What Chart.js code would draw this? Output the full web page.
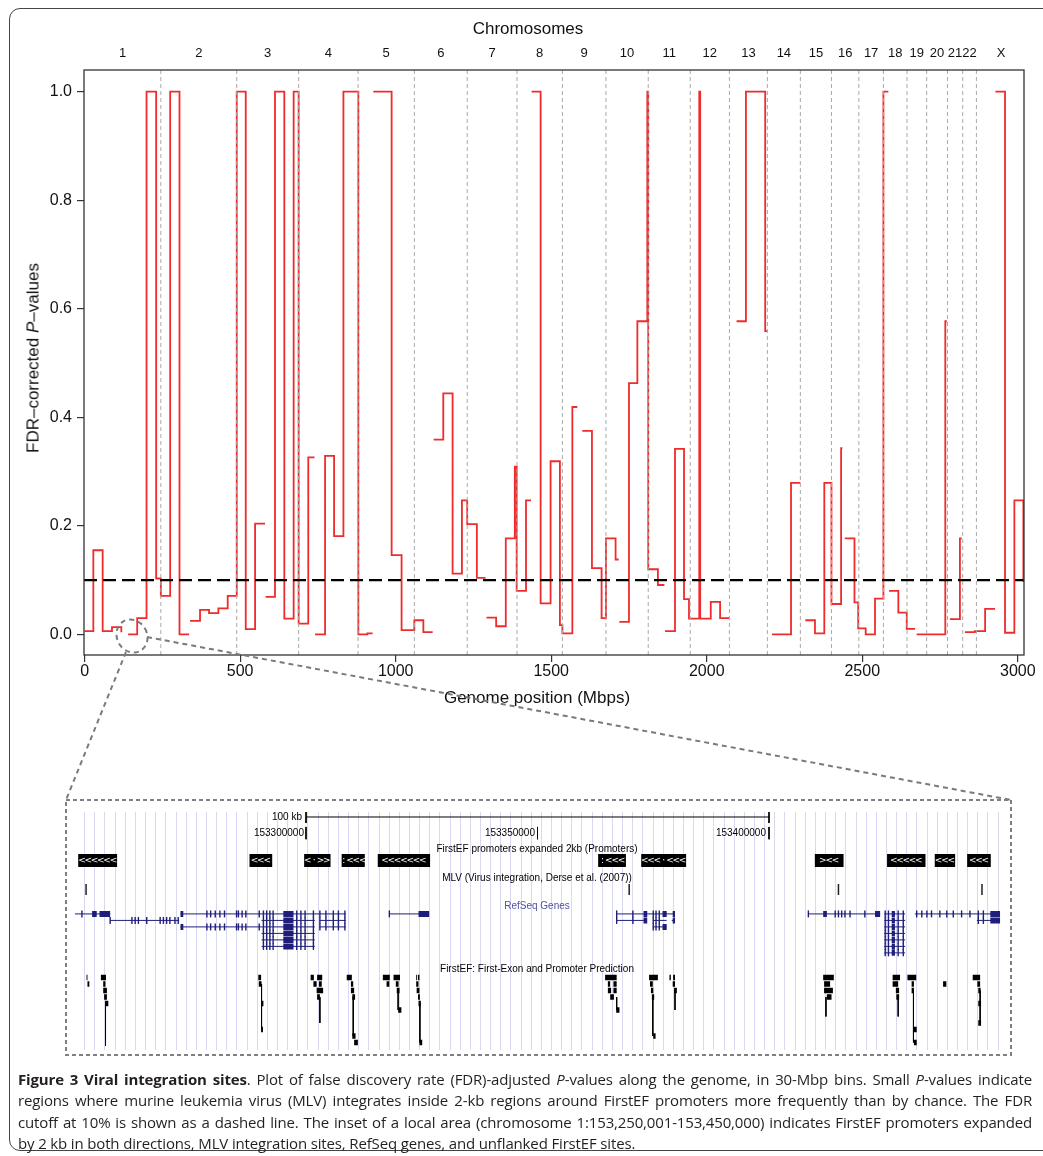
<!DOCTYPE html>
<html>
<head>
<meta charset="utf-8">
<script src="https://cdn.jsdelivr.net/npm/chart.js@4.4.1/dist/chart.umd.min.js"></script>
<style>
  html, body { margin: 0; padding: 0; background: #fff; }
  body { width: 1043px; height: 1156px; position: relative; overflow: hidden; font-family: "Liberation Sans", Arial, sans-serif; color: #111; }
  #frame { position: absolute; left: 9px; top: 8px; width: 1100px; height: 1141px; border: 1px solid #444; border-radius: 11px; }
  #pvalChart { position: absolute; left: 0; top: 0; }
  #insetChart { position: absolute; left: 67px; top: 801px; }
  .t { position: absolute; white-space: nowrap; line-height: 1; }
  .c { transform: translate(-50%, -50%); }
  .r { transform: translate(-100%, -50%); }
  .ax { font-size: 17px; }
  .ins { font-size: 10px; color: #000; }
  #ytitle { left: 33px; top: 358px; transform: translate(-50%, -50%) rotate(-90deg); }
  #overlay { position: absolute; left: 0; top: 0; pointer-events: none; }
  #caption { position: absolute; left: 18px; top: 1069px; width: 1014px; font-family: "Open Sans", sans-serif; font-size: 15px; letter-spacing: -0.15px; line-height: 21.3px; color: #231f20; }
  #caption .j { text-align: justify; text-align-last: justify; }
</style>
</head>
<body>
<div id="frame"></div>
<canvas id="pvalChart" width="1043" height="720"></canvas>
<canvas id="insetChart" width="943" height="254"></canvas>

<div class="t c ax" style="left:528px;top:28px;">Chromosomes</div>
<div class="t c ax" style="left:537px;top:697px;">Genome position (Mbps)</div>
<div class="t ax" id="ytitle">FDR–corrected <i>P</i>–values</div>

<div class="t r ins" style="left:302px;top:817px;">100 kb</div>
<div class="t r ins" style="left:304px;top:833px;">153300000</div>
<div class="t r ins" style="left:535px;top:833px;">153350000</div>
<div class="t r ins" style="left:766px;top:833px;">153400000</div>
<div class="t c ins" style="left:537px;top:849px;">FirstEF promoters expanded 2kb (Promoters)</div>
<div class="t c ins" style="left:537px;top:878px;">MLV (Virus integration, Derse et al. (2007))</div>
<div class="t c ins" style="left:537px;top:906px;color:#5050a8;">RefSeq Genes</div>
<div class="t c ins" style="left:537px;top:969px;">FirstEF: First-Exon and Promoter Prediction</div>

<svg id="overlay" width="1043" height="1156">
  <g fill="none" stroke="#7a7a7a" stroke-width="2" stroke-dasharray="5 4">
    <ellipse cx="132" cy="636" rx="15" ry="17" transform="rotate(-30 132 636)"></ellipse>
    <line x1="126" y1="652" x2="66" y2="800"></line>
    <line x1="147" y1="637" x2="1011" y2="800"></line>
  </g>
  <rect x="66" y="800" width="945" height="255" fill="none" stroke="#808080" stroke-width="2" stroke-dasharray="4 3"></rect>
</svg>

<div id="caption">
  <div class="j"><b>Figure 3 Viral integration sites</b>. Plot of false discovery rate (FDR)-adjusted <i>P</i>-values along the genome, in 30-Mbp bins. Small <i>P</i>-values indicate</div>
  <div class="j">regions where murine leukemia virus (MLV) integrates inside 2-kb regions around FirstEF promoters more frequently than by chance. The FDR</div>
  <div class="j">cutoff at 10% is shown as a dashed line. The inset of a local area (chromosome 1:153,250,001-153,450,000) indicates FirstEF promoters expanded</div>
  <div>by 2 kb in both directions, MLV integration sites, RefSeq genes, and unflanked FirstEF sites.</div>
</div>

<script>
// ---- genome-wide plot data (Mbp) ----
const chromNames = ['1', '2', '3', '4', '5', '6', '7', '8', '9', '10', '11', '12',
  '13', '14', '15', '16', '17', '18', '19', '20', '21', '22', 'X'];
const chromStart = [0, 245, 489, 688, 879, 1060, 1230, 1390, 1536, 1676, 1812, 1947,
  2073, 2195, 2301, 2401, 2489, 2568, 2644, 2707, 2774, 2823, 2867];
const genomeEnd = 3025;

// each run is a continuous stretch of the step line: bin left edges and FDR P-values
const binStart = [
  [0, 28, 58, 88, 118],
  [140, 169, 199, 230, 245, 275, 305, 336],
  [339, 371, 400, 430, 460, 489, 518, 548, 580],
  [582, 612, 642, 672, 688, 719, 739],
  [741, 773, 802, 832, 880, 909, 926],
  [928, 987, 1019, 1060, 1089, 1119],
  [1122, 1153, 1183, 1213, 1230, 1261, 1289],
  [1292, 1323, 1354, 1383, 1389, 1419, 1435],
  [1437, 1466, 1498, 1528, 1536, 1568, 1584],
  [1600, 1631, 1662, 1676, 1707, 1717],
  [1719, 1750, 1777, 1809, 1812, 1843, 1864],
  [1866, 1898, 1927, 1943, 1976, 1979, 2013, 2043, 2073],
  [2096, 2126, 2188, 2195],
  [2210, 2271, 2301],
  [2317, 2348, 2378, 2401, 2432, 2436],
  [2444, 2475, 2487, 2511, 2541, 2568, 2584],
  [2586, 2616, 2643, 2670],
  [2675, 2767, 2772],
  [2782, 2814, 2820],
  [2830, 2862, 2895, 2927],
  [2928, 2959, 2989, 3018, 3021]
];
const binP = [
  [0.006, 0.155, 0.006, 0.0135, 0.004],
  [0.0, 0.030, 1.0, 0.103, 0.071, 1.0, 0.0, 0.0],
  [0.025, 0.045, 0.039, 0.048, 0.071, 1.0, 0.0098, 0.204, 0.204],
  [0.069, 1.0, 0.029, 1.0, 0.020, 0.326, 0.326],
  [0.0, 0.329, 0.181, 1.0, 0.0, 0.002, 0.002],
  [1.0, 0.146, 0.008, 0.026, 0.004, 0.004],
  [0.359, 0.444, 0.112, 0.247, 0.203, 0.104, 0.104],
  [0.031, 0.015, 0.177, 0.309, 0.080, 0.247, 0.247],
  [1.0, 0.057, 0.319, 0.017, 0.002, 0.419, 0.419],
  [0.375, 0.122, 0.030, 0.177, 0.138, 0.138],
  [0.023, 0.463, 0.577, 1.0, 0.120, 0.091, 0.091],
  [0.006, 0.342, 0.065, 0.029, 1.0, 0.029, 0.060, 0.030, 0.030],
  [0.577, 1.0, 0.559, 0.559],
  [0.0, 0.279, 0.279],
  [0.026, 0.002, 0.279, 0.056, 0.343, 0.343],
  [0.177, 0.059, 0.011, 0.0, 0.066, 1.0, 1.0],
  [0.080, 0.040, 0.010, 0.010],
  [0.0, 0.577, 0.577],
  [0.028, 0.177, 0.177],
  [0.004, 0.006, 0.047, 0.047],
  [1.0, 0.003, 0.247, 0.098, 0.098]
];
const fdrCutoff = 0.1;
const xTickValues = [0, 500, 1000, 1500, 2000, 2500, 3000];
const yTickValues = [0, 0.2, 0.4, 0.6, 0.8, 1.0];

// ---- inset data: kb from chr1:153,250,000 ----
const coordTicksKb = [50, 100, 150];
const scaleBarKb = [50, 150];
const promoterBoxes = [[0.8, 9.2], [37.8, 42.7], [49.6, 55.3], [57.7, 62.7], [65.5, 76.8],
  [113.1, 119.1], [122.4, 132.1], [159.9, 166.1], [175.5, 183.8], [185.8, 190.2], [192.8, 197.9]];
const promoterArrows = ['<<<<<<', '<<<', '<·>>', ':<<<', '<<<<<<<', ':<<<', '<<<·<<<', '><<', '<<<<<', '<<<', '<<<'];
const mlvSitesKb = [2.5, 119.8, 165.0, 196.0];
// [start, end, isoform row]
const geneSpans = [
  [0.1, 7.7, 0], [22.9, 58.6, 0], [68.0, 76.6, 0], [117.1, 129.7, 0], [158.5, 174.0, 0], [174.9, 179.4, 0], [181.5, 199.9, 0],
  [7.7, 22.6, 1], [40.4, 51.9, 1], [52.9, 58.6, 1], [117.1, 123.6, 1], [124.9, 127.9, 1], [129.0, 129.7, 1], [174.9, 179.4, 1], [194.9, 199.9, 1],
  [22.9, 51.9, 2], [52.9, 58.6, 2], [124.9, 127.9, 2], [174.9, 179.4, 2],
  [40.4, 51.9, 3], [174.9, 179.4, 3],
  [40.4, 51.9, 4], [174.9, 179.4, 4],
  [40.4, 51.9, 5], [174.9, 179.4, 5],
  [174.9, 179.4, 6]
];
const exonGroups = [
  { kb: [28.6, 29.4, 30.4, 31.4, 32.4, 35.0, 35.4, 36.2, 37.0, 39.9], rows: [0, 2] },
  { kb: [40.8, 41.5, 42.2, 42.9, 48.0, 48.9, 49.8, 51.6], rows: [0, 1, 2, 3, 4, 5] },
  { kb: [53.0, 54.3, 55.9, 57.0, 58.4], rows: [0, 1, 2] },
  { kb: [1.6, 68.0, 158.5, 164.3, 165.0, 165.7, 166.4, 167.5, 170.7, 181.9, 183.0, 184.1, 185.1, 186.9, 188.4, 189.8, 191.6, 193.4], rows: [0] },
  { kb: [7.7, 12.4, 13.1, 13.8, 15.6, 18.5, 19.2, 19.9, 20.6, 21.7, 22.4], rows: [1] },
  { kb: [117.1, 120.6], rows: [0, 1] },
  { kb: [125.0, 125.6, 126.3], rows: [0, 1, 2] },
  { kb: [175.1, 175.8, 177.9, 179.0], rows: [0, 1, 2, 3, 4, 5, 6] },
  { kb: [195.2, 196.3], rows: [0, 1] }
];
const exonBlocks = [
  [3.8, 4.8, [0]], [5.4, 7.7, [0]], [22.9, 23.5, [0, 2]], [45.1, 47.3, [0, 1, 2, 3, 4, 5]], [74.3, 76.6, [0]],
  [122.9, 123.7, [0, 1]], [127.0, 127.9, [0, 2]], [129.2, 129.7, [0, 1]], [161.7, 162.5, [0]], [172.9, 174.0, [0]],
  [176.5, 177.2, [0, 1, 2, 3, 4, 5, 6]], [197.8, 199.9, [0, 1]]
];
// FirstEF predictions: [start, end, stack level]
const firstEfBoxes = [
  [2.6, 2.8, 0], [2.8, 3.2, 1],
  [5.7, 6.8, 0], [6.2, 6.7, 1], [6.2, 7.0, 2], [6.4, 7.0, 3], [6.6, 7.3, 4],
  [39.7, 40.3, 0], [39.8, 40.4, 1], [40.3, 40.8, 4], [40.3, 40.7, 8],
  [51.0, 51.7, 0], [52.4, 53.5, 0], [51.6, 52.3, 1], [52.8, 53.4, 1], [52.3, 53.7, 2], [52.4, 53.0, 3],
  [58.8, 59.9, 0], [59.7, 60.2, 1], [59.7, 60.4, 2], [60.0, 60.6, 3], [60.0, 60.7, 9], [60.4, 61.2, 10],
  [66.6, 68.1, 0], [68.9, 70.3, 0], [67.4, 68.0, 1], [69.4, 70.0, 1], [69.6, 70.2, 2], [69.9, 70.6, 5],
  [73.8, 74.0, 0], [74.2, 74.5, 0], [73.8, 74.3, 1], [73.9, 74.5, 2], [74.2, 74.6, 3], [74.3, 74.8, 4], [74.5, 75.1, 10],
  [114.6, 117.1, 0], [115.2, 115.7, 1], [116.4, 117.1, 1], [115.2, 115.9, 2], [116.4, 117.1, 2], [115.7, 116.5, 3], [117.0, 117.7, 5],
  [124.1, 126.0, 0], [124.3, 124.9, 1], [124.5, 125.0, 2], [124.7, 125.2, 3], [125.0, 125.5, 9],
  [128.5, 128.8, 0], [129.3, 129.7, 0], [129.2, 129.7, 1], [129.5, 130.1, 2],
  [161.7, 164.0, 0], [161.9, 163.2, 1], [161.9, 163.8, 2], [162.5, 163.5, 3],
  [176.7, 178.3, 0], [176.7, 177.9, 1], [177.4, 178.1, 2], [177.5, 178.1, 3],
  [179.9, 181.8, 0], [180.8, 181.3, 1], [180.8, 181.3, 2], [181.2, 181.9, 8], [181.3, 181.9, 10],
  [187.8, 188.0, 0], [187.6, 188.3, 1],
  [194.0, 195.6, 0], [195.0, 195.6, 1], [195.2, 195.7, 2], [195.2, 195.8, 4], [195.2, 195.8, 7]
];
// thin connectors: [kb, from level, to level]
const firstEfStems = [[6.7, 4, 10.5], [40.4, 1, 8], [53.0, 3, 7], [60.2, 3, 9], [69.9, 2, 5], [74.6, 4, 10],
  [117.1, 3, 5], [124.9, 3, 9], [129.7, 2, 5], [162.3, 3, 6], [177.9, 3, 6], [181.2, 2, 10], [195.6, 2, 7]];

Chart.defaults.font.family = '"Liberation Sans", Arial, Helvetica, sans-serif';
Chart.defaults.color = '#111';

// ---------- main chart ----------
const X_MIN = -2, X_MAX = 3020, Y_MIN = -0.038, Y_MAX = 1.04;

const stepPoints = [];
binStart.forEach((xs, r) => {
  xs.forEach((x, i) => stepPoints.push({ x: x, y: binP[r][i] }));
  stepPoints.push({ x: xs[xs.length - 1], y: null });
});
const boundaryPoints = [];
chromStart.slice(1).forEach(b => {
  boundaryPoints.push({ x: b, y: Y_MIN }, { x: b, y: Y_MAX }, { x: b, y: null });
});
const chromMid = chromStart.map((s, i) => (s + (chromStart[i + 1] ?? genomeEnd)) / 2);

const frameBox = {
  id: 'frameBox',
  afterDatasetsDraw(chart) {
    const { ctx, chartArea: a } = chart;
    ctx.save();
    ctx.strokeStyle = '#333';
    ctx.lineWidth = 1.3;
    ctx.strokeRect(a.left, a.top, a.right - a.left, a.bottom - a.top);
    ctx.restore();
  }
};

new Chart(document.getElementById('pvalChart'), {
  type: 'line',
  data: {
    datasets: [
      { data: [{ x: X_MIN, y: fdrCutoff }, { x: X_MAX, y: fdrCutoff }], borderColor: '#000', borderWidth: 2.2, borderDash: [13, 6], pointRadius: 0, order: 0 },
      { data: boundaryPoints, borderColor: '#a9a9a9', borderWidth: 1, borderDash: [4, 3], pointRadius: 0, spanGaps: false, order: 1 },
      { data: stepPoints, borderColor: '#ef2b2b', borderWidth: 1.8, stepped: 'before', pointRadius: 0, spanGaps: false, order: 2 }
    ]
  },
  options: {
    responsive: false,
    animation: false,
    devicePixelRatio: 1,
    layout: { padding: { left: 0, right: 19, top: 0, bottom: 0 } },
    plugins: { legend: { display: false }, tooltip: { enabled: false } },
    scales: {
      x: {
        type: 'linear', position: 'bottom', min: X_MIN, max: X_MAX,
        afterBuildTicks: (a) => { a.ticks = xTickValues.map(v => ({ value: v })); },
        afterFit: (s) => { s.height = 65; },
        ticks: { autoSkip: false, maxRotation: 0, padding: 0, font: { size: 16 }, callback: (v) => String(v) },
        grid: { drawOnChartArea: false, tickLength: 7, color: '#333', lineWidth: 1.2 },
        border: { display: false }
      },
      x2: {
        type: 'linear', position: 'top', min: X_MIN, max: X_MAX,
        afterBuildTicks: (a) => { a.ticks = chromMid.map(v => ({ value: v })); },
        afterFit: (s) => { s.height = 70; },
        ticks: { autoSkip: false, maxRotation: 0, padding: 1, font: { size: 13 }, callback: (v, i) => chromNames[i] },
        grid: { display: false },
        border: { display: false }
      },
      y: {
        type: 'linear', min: Y_MIN, max: Y_MAX,
        afterBuildTicks: (a) => { a.ticks = yTickValues.map(v => ({ value: v })); },
        afterFit: (s) => { s.width = 84; },
        ticks: { padding: 5, font: { size: 16 }, callback: (v) => v.toFixed(1) },
        grid: { drawOnChartArea: false, tickLength: 7, color: '#333', lineWidth: 1.2 },
        border: { display: false }
      }
    }
  },
  plugins: [frameBox]
});

// ---------- inset (genome browser view) ----------
const ROW = { bar: 0.77, barTop: 0, barBottom: 1.7, coordTop: 2.3, coordBottom: 4.2, promoter: 7.46,
  mlvTop: 11.1, mlvBottom: 12.8, gene: 15.7, firstEf: 25.5 };

const seg = (out, x0, y0, x1, y1) => { out.push({ x: x0, y: y0 }, { x: x1, y: y1 }, { x: x1, y: null }); };

const barPoints = [];
seg(barPoints, scaleBarKb[0], ROW.bar, scaleBarKb[1], ROW.bar);
scaleBarKb.forEach(k => seg(barPoints, k, ROW.barTop, k, ROW.barBottom));
coordTicksKb.forEach(k => seg(barPoints, k, ROW.coordTop, k, ROW.coordBottom));

const promoterPoints = [];
promoterBoxes.forEach(([s, e]) => seg(promoterPoints, s, ROW.promoter, e, ROW.promoter));

const mlvPoints = [];
mlvSitesKb.forEach(k => seg(mlvPoints, k, ROW.mlvTop, k, ROW.mlvBottom));

const genePoints = [];
geneSpans.forEach(([s, e, r]) => seg(genePoints, s, ROW.gene + r, e, ROW.gene + r));

const exonTickPoints = [];
exonGroups.forEach(g => g.rows.forEach(r => g.kb.forEach(k => exonTickPoints.push({ x: k, y: ROW.gene + r }))));

const exonBlockPoints = [];
exonBlocks.forEach(([s, e, rows]) => rows.forEach(r => seg(exonBlockPoints, s, ROW.gene + r, e, ROW.gene + r)));

const efBoxPoints = [];
firstEfBoxes.forEach(([s, e, l]) => seg(efBoxPoints, s, ROW.firstEf + l, e, ROW.firstEf + l));

const efStemPoints = [];
firstEfStems.forEach(([k, a, b]) => seg(efStemPoints, k, ROW.firstEf + a, k, ROW.firstEf + b));

const guideKb = [];
for (let k = 2.2; k <= 199.9; k += 2.192) guideKb.push(k);

const promoterArrowsPlugin = {
  id: 'promoterArrows',
  afterDatasetsDraw(chart) {
    const { ctx, scales: { x, y } } = chart;
    ctx.save();
    ctx.fillStyle = '#fff';
    ctx.font = '9px "DejaVu Sans", sans-serif';
    ctx.textAlign = 'center';
    ctx.textBaseline = 'middle';
    promoterBoxes.forEach(([s, e], i) => {
      const chars = promoterArrows[i].split('');
      const cx = (x.getPixelForValue(s) + x.getPixelForValue(e)) / 2;
      const cy = y.getPixelForValue(ROW.promoter);
      chars.forEach((ch, j) => ctx.fillText(ch, cx + (j - (chars.length - 1) / 2) * 6.3, cy));
    });
    ctx.restore();
  }
};

const navy = '#1f1f7a';
const lineSet = (data, color, width, extra) => Object.assign({
  data, borderColor: color, borderWidth: width, pointRadius: 0, spanGaps: false, clip: false, borderCapStyle: 'butt'
}, extra || {});

new Chart(document.getElementById('insetChart'), {
  type: 'line',
  data: {
    datasets: [
      lineSet(barPoints, '#000', 1),
      lineSet(promoterPoints, '#000', 13),
      lineSet(mlvPoints, '#222', 1.5),
      lineSet(genePoints, navy, 1),
      lineSet(exonBlockPoints, navy, 6),
      { data: exonTickPoints, showLine: false, pointStyle: 'line', rotation: 90, pointRadius: 3.5,
        pointBorderColor: navy, pointBorderWidth: 1.4, clip: false },
      lineSet(efBoxPoints, '#000', 5.5),
      lineSet(efStemPoints, '#000', 1)
    ]
  },
  options: {
    responsive: false,
    animation: false,
    devicePixelRatio: 1,
    layout: { padding: { left: 7.5, right: 9.5, top: 11, bottom: 5 } },
    plugins: { legend: { display: false }, tooltip: { enabled: false } },
    scales: {
      x: {
        type: 'linear', min: 0, max: 200,
        afterBuildTicks: (a) => { a.ticks = guideKb.map(v => ({ value: v })); },
        afterFit: (s) => { s.height = 0; },
        ticks: { display: false },
        grid: { color: '#d8d8f2', lineWidth: 1, drawTicks: false },
        border: { display: false }
      },
      y: { type: 'linear', min: 0, max: 36.6, reverse: true, display: false }
    }
  },
  plugins: [promoterArrowsPlugin]
});
</script>
</body>
</html>
